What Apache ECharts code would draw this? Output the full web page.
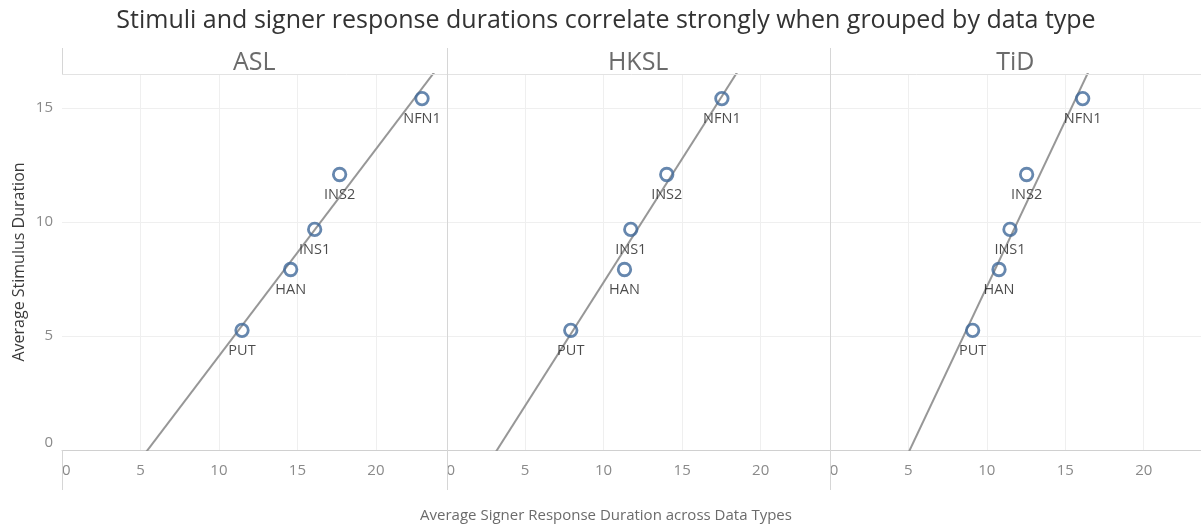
<!DOCTYPE html>
<html>
<head>
<meta charset="utf-8">
<script src="https://cdn.jsdelivr.net/npm/echarts@6/dist/echarts.min.js"></script>
<style>
  html, body { margin: 0; padding: 0; background: #ffffff; }
  #chart { width: 1201px; height: 525px; }
</style>
</head>
<body>
<div id="chart"></div>
<script>
// ---- data -------------------------------------------------------------
const languages = ['ASL', 'HKSL', 'TiD'];
const dataTypes = ['PUT', 'HAN', 'INS1', 'INS2', 'NFN1'];
// average stimulus duration per data type (same stimuli for every language)
const stimulusDuration = [5.25, 7.92, 9.68, 12.09, 15.42];
// average signer response duration per data type, one array per language
const responseASL  = [11.47, 14.57, 16.10, 17.69, 22.94];
const responseHKSL = [7.91, 11.33, 11.73, 14.02, 17.53];
const responseTiD  = [9.10, 10.78, 11.48, 12.54, 16.11];
const xTickLabels = [0, 5, 10, 15, 20];
const yTickLabels = [0, 5, 10, 15];

const titleText = 'Stimuli and signer response durations correlate strongly when grouped by data type';
const xTitle = 'Average Signer Response Duration across Data Types';
const yTitle = 'Average Stimulus Duration';

// ---- layout -----------------------------------------------------------
const FONT = '"Open Sans", "Noto Sans", sans-serif';
const EDGES = [62, 446.5, 829.8, 1201];   // panel borders (px)
const HEAD_TOP = 48, PLOT_TOP = 74, PLOT_BOTTOM = 450, FOOT = 490;
const X_MAX = [24.5, 24.4, 23.65];
const Y_MAX = 16.5;

const responses = [responseASL, responseHKSL, responseTiD];

// least-squares trend line y = a + b x
function linearFit(xs, ys) {
  const n = xs.length;
  const mx = xs.reduce((s, v) => s + v, 0) / n;
  const my = ys.reduce((s, v) => s + v, 0) / n;
  let sxy = 0, sxx = 0;
  for (let i = 0; i < n; i++) {
    sxy += (xs[i] - mx) * (ys[i] - my);
    sxx += (xs[i] - mx) * (xs[i] - mx);
  }
  const b = sxy / sxx;
  return { a: my - b * mx, b };
}

const grids = [], xAxes = [], yAxes = [], series = [], graphics = [];

languages.forEach((lang, i) => {
  const left = EDGES[i], width = EDGES[i + 1] - EDGES[i];
  grids.push({ left, top: PLOT_TOP, width, height: PLOT_BOTTOM - PLOT_TOP, outerBoundsMode: 'none' });

  xAxes.push({
    type: 'value', gridIndex: i, min: 0, max: X_MAX[i], interval: 5,
    axisLine: { show: true, lineStyle: { color: '#d0d0d0', width: 1 } },
    axisTick: { show: false },
    axisLabel: {
      color: '#8a8a8a', fontSize: 15, fontFamily: FONT, margin: 13,
      alignMinLabel: 'left', showMaxLabel: false,
      formatter: v => (xTickLabels.includes(v) ? String(v) : '')
    },
    splitLine: { show: true, showMinLine: false, showMaxLine: false, lineStyle: { color: '#efefef', width: 1 } }
  });

  yAxes.push({
    type: 'value', gridIndex: i, min: 0, max: Y_MAX, interval: 5,
    name: i === 0 ? yTitle : '', nameLocation: 'middle', nameGap: 35,
    nameTextStyle: { color: '#3a3a3a', fontSize: 16, fontFamily: FONT },
    axisLine: { show: false },
    axisTick: { show: false },
    axisLabel: {
      show: i === 0, color: '#8a8a8a', fontSize: 15, fontFamily: FONT, margin: 9,
      verticalAlignMinLabel: 'bottom', showMaxLabel: false,
      formatter: v => (yTickLabels.includes(v) ? String(v) : '')
    },
    splitLine: { show: true, showMinLine: false, showMaxLine: false, lineStyle: { color: '#efefef', width: 1 } }
  });

  const xs = responses[i];
  const fit = linearFit(xs, stimulusDuration);
  series.push({
    type: 'line', xAxisIndex: i, yAxisIndex: i, silent: true, clip: true,
    symbol: 'none', z: 2,
    lineStyle: { color: '#979797', width: 2 },
    data: [[0, fit.a], [X_MAX[i], fit.a + fit.b * X_MAX[i]]]
  });

  series.push({
    type: 'scatter', xAxisIndex: i, yAxisIndex: i, z: 3,
    symbol: 'circle', symbolSize: 12.5,
    itemStyle: { color: 'rgba(255,255,255,0)', borderColor: '#40699a', borderWidth: 2.8 },
    label: {
      show: true, position: 'bottom', distance: 5,
      color: '#1e1e1e', fontSize: 14.5, fontFamily: FONT,
      formatter: p => p.data[2]
    },
    data: xs.map((x, j) => [x, stimulusDuration[j], dataTypes[j]])
  });

  // panel header
  graphics.push({
    type: 'text', x: left + width / 2, y: 63, silent: true,
    style: { text: lang, fill: '#6b6b6b', font: '25px ' + FONT, align: 'center', verticalAlign: 'middle' }
  });
});

// frame: header rule and panel separators
const frameColor = '#d6d6d6';
graphics.push({ type: 'line', silent: true, z: 10,
  shape: { x1: EDGES[0], y1: PLOT_TOP + 0.5, x2: EDGES[3], y2: PLOT_TOP + 0.5 },
  style: { stroke: '#e3e3e3', lineWidth: 1 } });
graphics.push({ type: 'line', silent: true, z: 10,
  shape: { x1: EDGES[0] + 0.5, y1: HEAD_TOP, x2: EDGES[0] + 0.5, y2: PLOT_TOP },
  style: { stroke: frameColor, lineWidth: 1 } });
graphics.push({ type: 'line', silent: true, z: 10,
  shape: { x1: EDGES[0] + 0.5, y1: PLOT_BOTTOM, x2: EDGES[0] + 0.5, y2: FOOT },
  style: { stroke: frameColor, lineWidth: 1 } });
[EDGES[1], EDGES[2]].forEach(xe => {
  graphics.push({ type: 'line', silent: true, z: 10,
    shape: { x1: Math.round(xe) + 0.5, y1: HEAD_TOP, x2: Math.round(xe) + 0.5, y2: FOOT },
    style: { stroke: frameColor, lineWidth: 1 } });
});

// chart title and x-axis title
graphics.push({ type: 'text', x: 606, y: 21, silent: true,
  style: { text: titleText, fill: '#333333', font: '25px ' + FONT, align: 'center', verticalAlign: 'middle' } });
graphics.push({ type: 'text', x: 606, y: 516, silent: true,
  style: { text: xTitle, fill: '#6b6b6b', font: '15px ' + FONT, align: 'center', verticalAlign: 'middle' } });

const chart = echarts.init(document.getElementById('chart'), null, { renderer: 'canvas' });
chart.setOption({
  animation: false,
  backgroundColor: '#ffffff',
  grid: grids,
  xAxis: xAxes,
  yAxis: yAxes,
  series,
  graphic: graphics
});
</script>
</body>
</html>
